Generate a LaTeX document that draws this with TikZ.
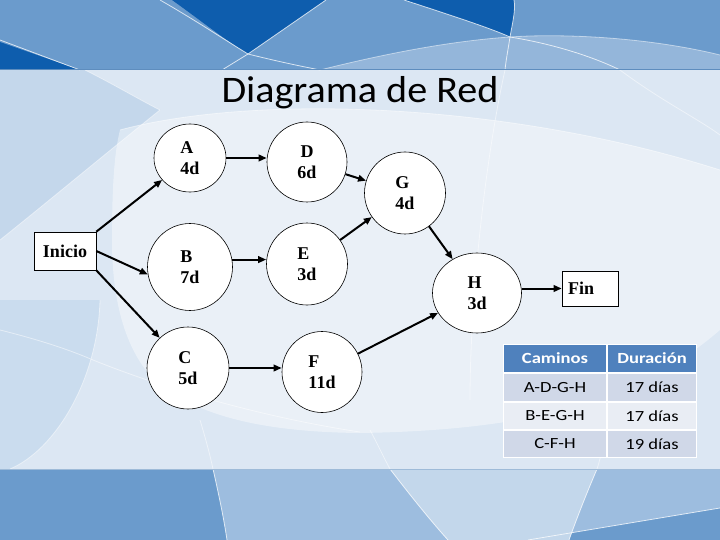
\documentclass[tikz,border=0pt]{standalone}
\usepackage{fontspec}
\setmainfont{Liberation Serif}
\newfontfamily\titlefont[FakeStretch=1.07]{Carlito}
\newfontfamily\tabfont[FakeStretch=1.2]{Carlito}
\usetikzlibrary{arrows.meta,shapes.geometric}
\definecolor{bandmid}{HTML}{6B9BCC}
\definecolor{banddark}{HTML}{0E5DAD}
\definecolor{bandlight}{HTML}{9DBDDF}
\definecolor{bandpale}{HTML}{C3D7EB}
\definecolor{bgleft}{HTML}{C4D7EB}
\definecolor{bglens}{HTML}{CADCEE}
\definecolor{bgmid}{HTML}{DCE7F3}
\definecolor{bandedge}{HTML}{5E8DBE}
\definecolor{thead}{HTML}{4F81BD}
\definecolor{trowa}{HTML}{D0D8E8}
\definecolor{trowb}{HTML}{E9EDF4}
\begin{document}
\begin{tikzpicture}[x=1pt,y=-1pt,
  act/.style={ellipse, draw=black, line width=0.6pt, fill=white, inner sep=0pt,
    align=left, font=\fontsize{18}{21.5}\selectfont\bfseries},
  endbox/.style={rectangle, draw=black, line width=0.6pt, fill=white,
    font=\fontsize{18}{21.5}\selectfont\bfseries},
  arr/.style={line width=2pt, -{Triangle[length=8pt,width=6.5pt]}},
  cell/.style={rectangle, inner sep=0pt, minimum height=26.5pt,
    font=\tabfont\fontsize{15.5}{18}\selectfont, text=black},
  hcell/.style={cell, fill=thead, text=white,
    font=\tabfont\bfseries\fontsize{15.5}{18}\selectfont},
  wline/.style={white, line width=0.8pt, opacity=0.75},
  fline/.style={white, line width=0.8pt, opacity=0.5}
]
\useasboundingbox (0,0) rectangle (720,540);

% ---------- background: middle ----------
\fill[bgmid] (0,70) rectangle (720,469);
\fill[bgleft] (0,70) -- (85,70) .. controls (115,85) and (140,100) .. (160,110)
   .. controls (110,150) and (50,200) .. (0,240) -- cycle;
\fill[bglens] (0,300) -- (100,300) .. controls (98,380) and (55,450) .. (10,469) -- (0,469) -- cycle;
\fill[white, opacity=0.4] (120,130) .. controls (250,95) and (500,100) .. (720,170)
   -- (720,330) .. controls (650,390) and (560,430) .. (360,433)
   .. controls (260,432) and (200,415) .. (160,385)
   .. controls (125,355) and (112,300) .. (112,240)
   .. controls (112,180) and (115,150) .. (120,130) -- cycle;
\draw[fline] (160,110) .. controls (110,150) and (50,200) .. (0,240);
\draw[fline] (85,70) .. controls (115,85) and (140,100) .. (160,110);
\draw[fline] (120,130) .. controls (250,95) and (500,100) .. (720,170);
\draw[fline] (0,330) .. controls (40,340) and (70,350) .. (93,360) .. controls (180,395) and (280,420) .. (360,432);
\draw[fline] (100,300) .. controls (98,380) and (55,450) .. (10,469);
\draw[fline] (505,70) .. controls (485,160) and (470,300) .. (470,400);
\draw[fline] (620,70) .. controls (660,100) and (700,120) .. (720,135);
\draw[fline] (200,420) .. controls (206,440) and (210,455) .. (213,469);
\draw[fline] (370,430) .. controls (378,445) and (384,458) .. (390,469);
\draw[fline] (605,440) .. controls (602,450) and (600,460) .. (597,469);

% ---------- background: top band ----------
\fill[bandmid] (0,0) rectangle (720,70);
\fill[banddark] (0,42) -- (80,70) -- (0,70) -- cycle;
\fill[banddark] (172,0) .. controls (200,20) and (225,40) .. (248,54) -- (326,0) -- cycle;
\fill[banddark] (404,0) .. controls (450,15) and (490,28) .. (510,37)
   .. controls (512,25) and (516,10) .. (514,0) -- cycle;
\fill[white, opacity=0.28] (320,70) .. controls (400,50) and (470,38) .. (530,36)
   .. controls (610,34) and (680,45) .. (720,55) -- (720,70) -- cycle;
\draw[wline] (0,40) -- (80,70);
\draw[wline] (160,0) .. controls (195,20) and (225,40) .. (248,54) .. controls (280,62) and (300,66) .. (320,70);
\draw[wline] (326,0) -- (248,54) -- (222,70);
\draw[wline] (404,0) .. controls (450,15) and (490,28) .. (510,37) .. controls (560,45) and (600,60) .. (620,70);
\draw[wline] (514,0) .. controls (516,10) and (512,25) .. (510,37) .. controls (508,50) and (506,60) .. (505,70);
\draw[wline, opacity=0.5] (320,70) .. controls (400,50) and (470,38) .. (530,36)
   .. controls (610,34) and (680,45) .. (720,55);
\draw[bandedge, line width=1pt] (0,70) -- (720,70);

% ---------- background: bottom band ----------
\fill[bandmid] (0,469) rectangle (720,540);
\fill[bandlight] (213,469) .. controls (220,500) and (224,520) .. (227,540)
   -- (528,540) -- (720,508) -- (720,469) -- cycle;
\fill[bandpale] (390,469) .. controls (410,495) and (430,520) .. (448,540)
   -- (569,540) .. controls (578,515) and (588,490) .. (597,469) -- cycle;
\draw[wline] (213,469) .. controls (220,500) and (224,520) .. (227,540);
\draw[wline] (390,469) .. controls (410,495) and (430,520) .. (448,540);
\draw[wline] (597,469) .. controls (588,490) and (578,515) .. (569,540);
\draw[wline] (528,540) -- (720,508);
\draw[bandedge!60!white, line width=1pt] (0,469) -- (720,469);

% ---------- title ----------
\node[font=\titlefont\fontsize{37.5}{44}\selectfont, anchor=base, inner sep=0pt] (title) at (360,103) {Diagrama de Red};

% ---------- network ----------
\node[endbox, minimum width=62pt, minimum height=38pt, inner sep=0pt] (Inicio) at (65,251) {Inicio};
\node[act, minimum width=72pt, minimum height=68pt] (A) at (190,158) {A\\4d};
\node[act, minimum width=85pt, minimum height=87pt] (B) at (190,267) {B\\7d};
\node[act, minimum width=82pt, minimum height=82pt] (C) at (188,368) {C\\5d};
\node[act, minimum width=80pt, minimum height=80pt, align=center] (D) at (307,162) {D\\6d};
\node[act, minimum width=81pt, minimum height=82pt] (E) at (307,264) {E\\3d};
\node[act, minimum width=80pt, minimum height=81pt] (F) at (322,372) {F\\11d};
\node[act, minimum width=81pt, minimum height=82pt] (G) at (405,193) {G\\4d};
\node[act, minimum width=89pt, minimum height=80pt] (H) at (477,293) {H\\3d};
\node[endbox, text width=44pt, inner xsep=6pt, inner ysep=0pt, minimum height=35pt, align=left] (Fin) at (590,288.5) {Fin};

\draw[arr] (Inicio.north east) -- (A);
\draw[arr] (Inicio.east) -- (B.190);
\draw[arr] (Inicio.south east) -- (C);
\draw[arr] (A.east) -- (A.east -| D.west);
\draw[arr] (B.10) -- (B.10 -| E.west);
\draw[arr] (C.east) -- (C.east -| F.west);
\draw[arr] (D) -- (G);
\draw[arr] (E) -- (G);
\draw[arr] (G) -- (H);
\draw[arr] (F) -- (H);
\draw[arr] (H.east |- Fin.west) -- (Fin.west);

% ---------- table ----------
\fill[white] (503,344) rectangle (697,458);
\node[hcell, minimum width=101.5pt, minimum height=26.5pt] (h1) at (555,358.5) {Caminos};
\node[hcell, minimum width=87.5pt, minimum height=26.5pt] (h2) at (652,358.5) {Duración};
\node[cell, fill=trowa, minimum width=101.5pt] (r1a) at (555,387.5) {A-D-G-H};
\node[cell, fill=trowa, minimum width=87.5pt] (r1b) at (652,387.5) {17 días};
\node[cell, fill=trowb, minimum width=101.5pt, minimum height=25.5pt] (r2a) at (555,416) {B-E-G-H};
\node[cell, fill=trowb, minimum width=87.5pt, minimum height=25.5pt] (r2b) at (652,416) {17 días};
\node[cell, fill=trowa, minimum width=101.5pt, minimum height=25.5pt] (r3a) at (555,444) {C-F-H};
\node[cell, fill=trowa, minimum width=87.5pt, minimum height=25.5pt] (r3b) at (652,444) {19 días};
\end{tikzpicture}
\end{document}
